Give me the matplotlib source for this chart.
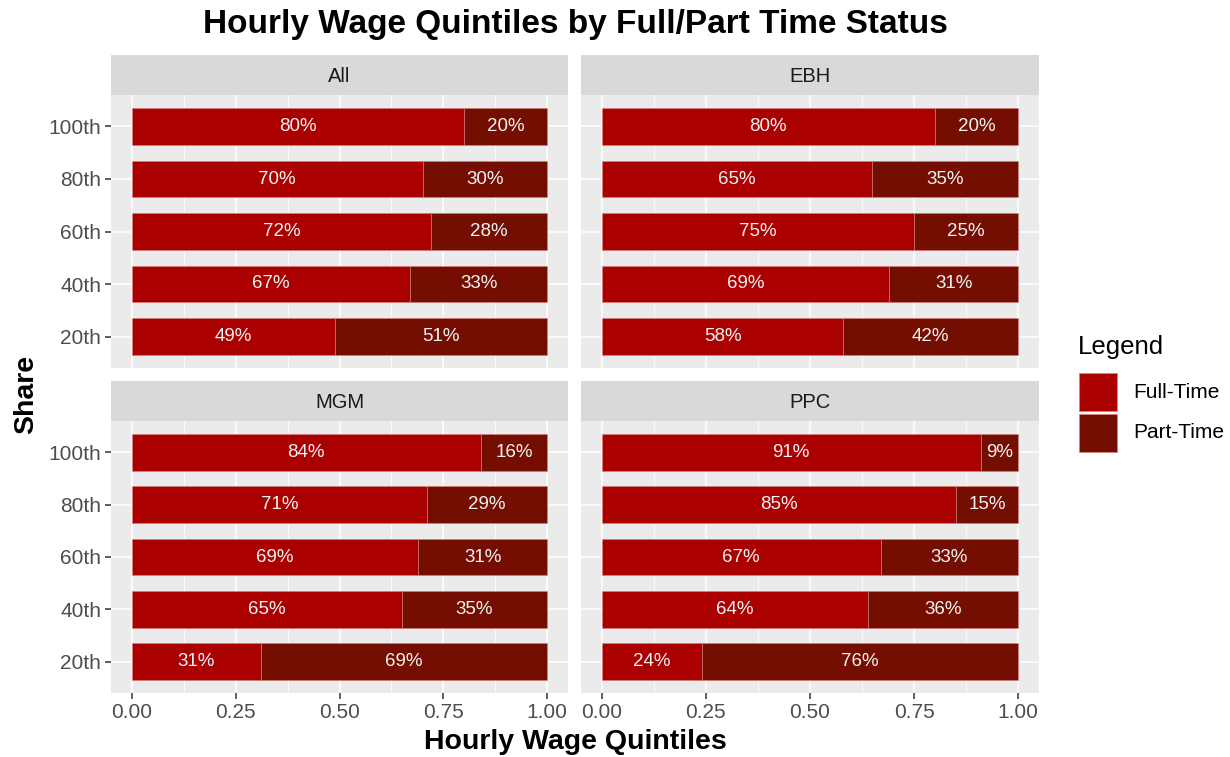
import matplotlib.pyplot as plt
from matplotlib.patches import Rectangle
import numpy as np

plt.rcParams['font.family'] = ['Liberation Sans', 'DejaVu Sans']

quintiles = ['20th', '40th', '60th', '80th', '100th']
groups = ['All', 'EBH', 'MGM', 'PPC']
full_time = {
    'All': [49, 67, 72, 70, 80],
    'EBH': [58, 69, 75, 65, 80],
    'MGM': [31, 65, 69, 71, 84],
    'PPC': [24, 64, 67, 85, 91],
}
part_time = {
    'All': [51, 33, 28, 30, 20],
    'EBH': [42, 31, 25, 35, 20],
    'MGM': [69, 35, 31, 29, 16],
    'PPC': [76, 36, 33, 15, 9],
}
xticks = [0, 0.25, 0.5, 0.75, 1.0]
xtick_labels = ['0.00', '0.25', '0.50', '0.75', '1.00']
legend_labels = ['Full-Time', 'Part-Time']

ft_color = '#AB0000'
pt_color = '#730E00'
edge = '#D98080'

W, H = 1230, 757
fig = plt.figure(figsize=(W / 100, H / 100), dpi=100)


def px_axes(x0, y0, x1, y1):
    return fig.add_axes([x0 / W, 1 - y1 / H, (x1 - x0) / W, (y1 - y0) / H])


panels = {
    'All': (111, 95, 568, 368),
    'EBH': (581, 95, 1039, 368),
    'MGM': (111, 421, 568, 693),
    'PPC': (581, 421, 1039, 693),
}
strip_h = 40

y = np.arange(len(quintiles))
for g in groups:
    x0, y0, x1, y1 = panels[g]
    ax = px_axes(x0, y0, x1, y1)
    ax.set_facecolor('#EBEBEB')
    ft = np.array(full_time[g]) / 100
    pt = np.array(part_time[g]) / 100
    ax.barh(y, ft, height=0.7, color=ft_color, edgecolor=edge, linewidth=0.4, zorder=3)
    ax.barh(y, pt, left=ft, height=0.7, color=pt_color, edgecolor=edge, linewidth=0.4, zorder=3)
    for i in range(len(quintiles)):
        ax.text(ft[i] / 2, y[i], f'{full_time[g][i]}%', ha='center', va='center',
                color='#F2F2F2', fontsize=13.5, zorder=4)
        ax.text(ft[i] + pt[i] / 2, y[i], f'{part_time[g][i]}%', ha='center', va='center',
                color='#F2F2F2', fontsize=13.5, zorder=4)
    ax.set_xlim(-0.05, 1.05)
    ax.set_ylim(-0.6, 4.6)
    ax.set_xticks(xticks)
    ax.set_xticks([0.125, 0.375, 0.625, 0.875], minor=True)
    ax.set_yticks(y)
    ax.grid(True, which='major', color='white', linewidth=1.1, zorder=0)
    ax.grid(True, which='minor', axis='x', color='white', linewidth=0.55, zorder=0)
    ax.set_axisbelow(True)
    for s in ax.spines.values():
        s.set_visible(False)
    ax.tick_params(which='major', length=4, width=1.1, color='#333333',
                   labelcolor='#4D4D4D', labelsize=15, pad=3)
    ax.tick_params(which='minor', length=0)
    if g in ('All', 'MGM'):
        ax.set_yticklabels(quintiles)
    else:
        ax.set_yticklabels([])
        ax.tick_params(axis='y', length=0)
    if g in ('MGM', 'PPC'):
        ax.set_xticklabels(xtick_labels)
    else:
        ax.set_xticklabels([])
        ax.tick_params(axis='x', length=0)

    sax = px_axes(x0, y0 - strip_h, x1, y0)
    sax.set_facecolor('#D9D9D9')
    sax.set_xticks([])
    sax.set_yticks([])
    for s in sax.spines.values():
        s.set_visible(False)
    sax.text(0.5, 0.47, g, ha='center', va='center', fontsize=14.5, color='#1A1A1A',
             transform=sax.transAxes)

fig.text(575 / W, 1 - 25 / H, 'Hourly Wage Quintiles by Full/Part Time Status',
         ha='center', va='center', fontsize=24, fontweight='bold')
fig.text(575 / W, 1 - 742 / H, 'Hourly Wage Quintiles', ha='center', va='center',
         fontsize=20.5, fontweight='bold')
fig.text(26 / W, 1 - 394 / H, 'Share', ha='center', va='center', rotation=90,
         fontsize=20.5, fontweight='bold')

# legend drawn by hand so keys sit where ggplot puts them
fig.text(1078 / W, 1 - 347 / H, 'Legend', ha='left', va='center', fontsize=18.5)
for k, (lab, col) in enumerate(zip(legend_labels, [ft_color, pt_color])):
    top = 373 + k * 41
    fig.patches.append(Rectangle((1079 / W, 1 - (top + 38) / H), 38 / W, 38 / H,
                                 facecolor=col, edgecolor=edge, linewidth=0.6,
                                 transform=fig.transFigure, figure=fig))
    fig.text(1133 / W, 1 - (top + 19) / H, lab, ha='left', va='center', fontsize=15)

fig.savefig('out.png', dpi=100)
